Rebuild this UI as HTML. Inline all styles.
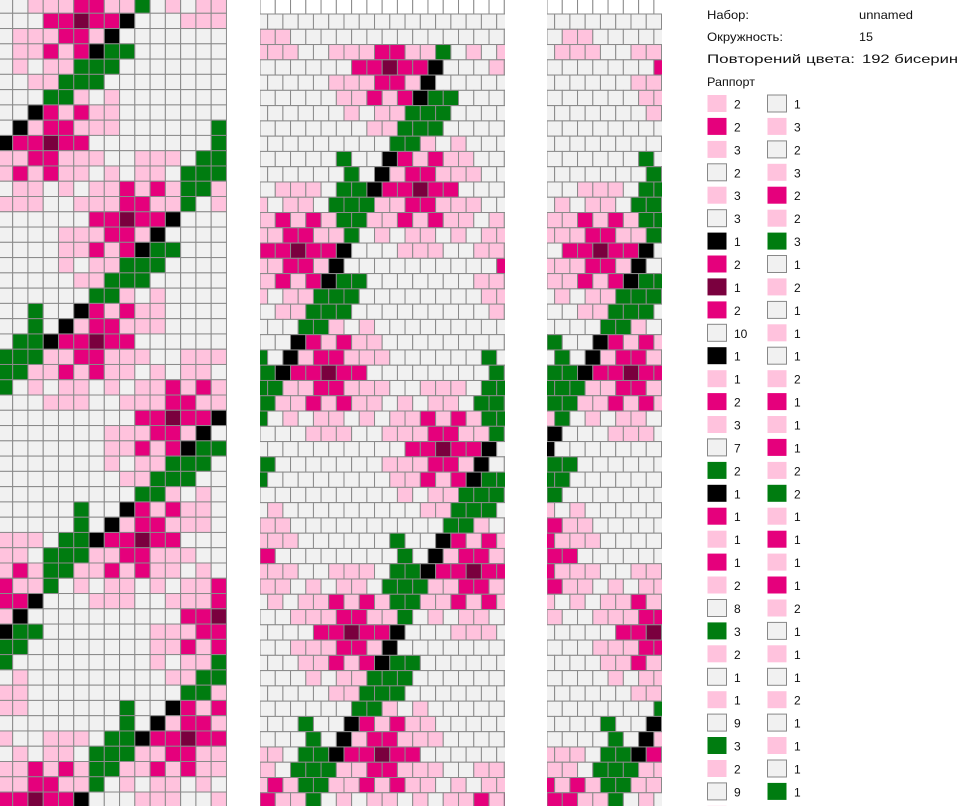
<!DOCTYPE html>
<html><head><meta charset="utf-8">
<style>
html,body{margin:0;padding:0;background:#fff;}
body{width:961px;height:806px;overflow:hidden;position:relative;font-family:"Liberation Sans","DejaVu Sans",sans-serif;}
svg{position:absolute;left:0;top:0;}
text{font-family:"Liberation Sans","DejaVu Sans",sans-serif;font-size:12px;fill:#111;}
</style></head>
<body>
<svg id="chart" width="961" height="806" viewBox="0 0 961 806">
<defs>
<clipPath id="clipL"><rect x="0" y="0" width="228" height="806"/></clipPath>
<clipPath id="clipM"><rect x="260" y="0" width="245" height="806"/></clipPath>
<clipPath id="clipR"><rect x="547" y="0" width="115" height="806"/></clipPath>
</defs>
<g id="left" clip-path="url(#clipL)"></g>
<g id="mid" clip-path="url(#clipM)"></g>
<g id="right" clip-path="url(#clipR)"></g>
<g id="legend"></g>
</svg>
<script>
// Rapport: run colours and counts (sequence of 192 beads)
const runColors = ['P','M','P','W','P','W','K','M','D','M','W','K','P','M','P','W','G','K','M','P','M','P','W','G','P','W','P','W','G','P','W',
 'P','W','P','G','W','P','M','P','M','K','W','G','W','P','M','P','K','W','G','W','M','D','M','K','G',
 'W','P','W','P','M','P','G','W','P','W','P','W','P','M','P','M','P','G','P','M','P','M','P','W','P','W','P','W','P','W','G'];
const runCounts = [2,2,3,2,3,3,1,2,1,2,10,1,1,2,3,7,2,1,1,1,1,2,8,3,2,1,1,9,3,2,9,
 1,1,1,2,10,2,1,1,1,1,2,1,6,3,2,1,1,1,1,8,2,1,2,1,2,
 1,3,2,3,2,2,3,1,2,1,1,1,2,1,1,1,2,2,1,1,1,1,2,1,1,1,2,1,1,1,1];
const legendSplit = [56];
const circumference = [15];
const infoLabels = ['Набор:','Окружность:','Повторений цвета:','Раппорт'];
const infoValues = ['unnamed','15','192 бисерин',''];

const COL = {P:'#ffc2dd',M:'#e5007c',D:'#7a003e',K:'#000000',G:'#007c10',W:'#f1f1f1'};
const NS='http://www.w3.org/2000/svg';
const C=15.27;
const seq=[];
runColors.forEach((c,i)=>{for(let k=0;k<runCounts[i];k++)seq.push(c);});
const N=seq.length;
function bead(s){return seq[((s%N)+N)%N];}

function cell(g,x,y,w,h,fill,name){
  const r=document.createElementNS(NS,'rect');
  r.setAttribute('x',x.toFixed(2));r.setAttribute('y',y.toFixed(2));
  r.setAttribute('width',w.toFixed(2));r.setAttribute('height',h.toFixed(2));
  r.setAttribute('fill',fill);r.setAttribute('stroke','#8a8a8a');r.setAttribute('stroke-width','1');
  
  
  g.appendChild(r);
}

const L=document.getElementById('left');


const W=circumference[0];
for(let r=0;r<54;r++){
  for(let j=0;j<W;j++){
    const s=r*W+(W-1-j)-6;
    cell(L,-2.6+C*j,-2+C*r,C,C,COL[bead(s)],'bead-cell');
  }
}

function brick(g,x0,xmin,xmax){
  for(let r=-1;r<54;r++){
    const odd=(r%2!==0);
    const y=14+C*r;
    for(let xi=-3;xi<=17;xi++){
      const x= odd? xi : xi+0.5;
      const sx=x0+C*x;
      if(sx+C<xmin||sx>xmax)continue;
      const u=15.5*r-20.5-x;
      let fill = u< -6 ? COL.W : COL[bead(u)];
      if(r<0) fill='#ffffff';
      cell(g,sx,y,C,C,fill,'bead-cell');
    }
  }
}
const M=document.getElementById('mid');


brick(M,260,260,505);
const R=document.getElementById('right');


brick(R,547+C,547,662);

const G=document.getElementById('legend');


function txt(x,y,s,name,len){
  const t=document.createElementNS(NS,'text');
  t.setAttribute('x',x);t.setAttribute('y',y);t.textContent=s;
  if(len){t.setAttribute('textLength',len);t.setAttribute('lengthAdjust','spacingAndGlyphs');}
  
  
  G.appendChild(t);
}
const infoY=[19,41,63,86];
const infoLen=[42,76,148,48];
infoLabels.forEach((s,i)=>txt(707,infoY[i],s,'info-label',infoLen[i]));
txt(859,19,infoValues[0],'set-name-value',54);
txt(859,41,infoValues[1],'circumference-value',14);
txt(862,63,infoValues[2],'repeat-count-value',96);
runColors.forEach((c,i)=>{
  const col = i<legendSplit[0]?0:1;
  const row = col===0? i : i-legendSplit[0];
  const y=103.5+22.93*row;
  if(y>820)return;
  const sx= col===0?707:767;
  const r=document.createElementNS(NS,'rect');
  r.setAttribute('x',sx+0.5);r.setAttribute('y',(y-8.5).toFixed(1));
  r.setAttribute('width',19);r.setAttribute('height',17);
  r.setAttribute('fill',COL[c]);
  r.setAttribute('stroke',c==='W'?'#888':'none');
  
  
  G.appendChild(r);
  txt(sx+27,(y+5).toFixed(1),String(runCounts[i]),'legend-count');
});
</script>
</body></html>
